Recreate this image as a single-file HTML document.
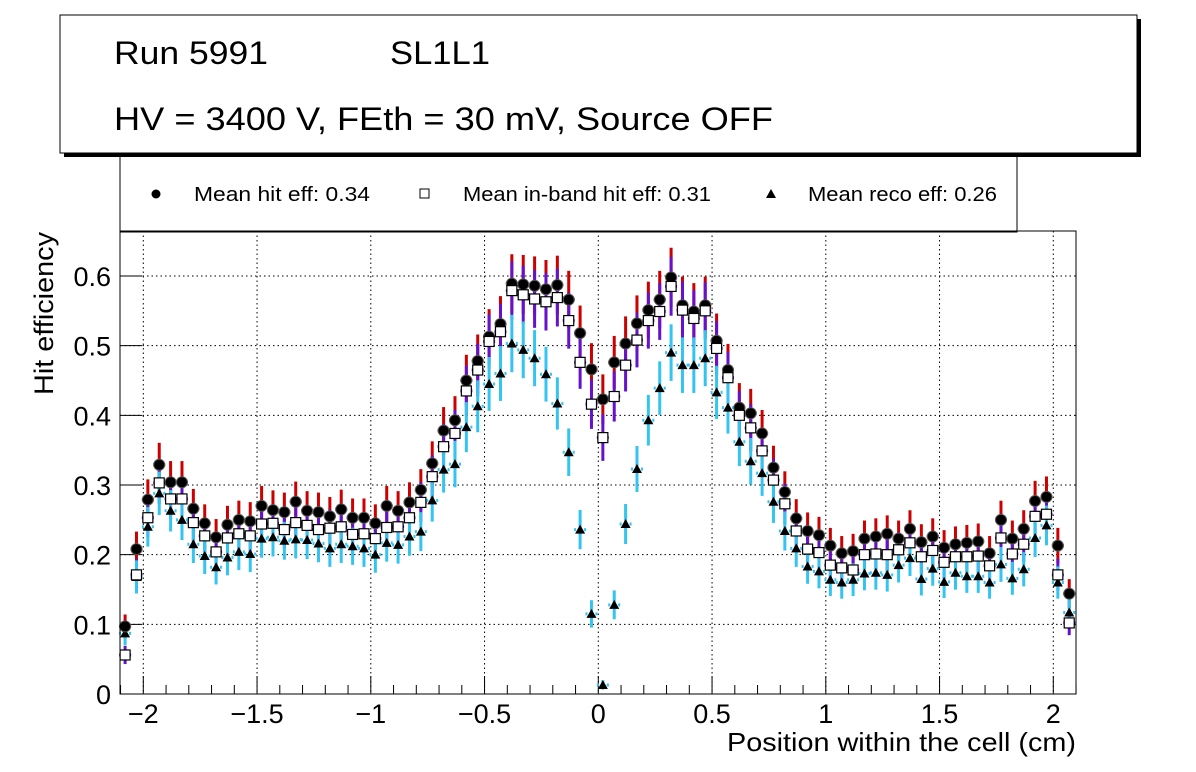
<!DOCTYPE html>
<html><head><meta charset="utf-8"><style>
html,body{margin:0;padding:0;background:#fff;}
svg{display:block;font-family:"Liberation Sans",sans-serif;}
</style></head><body>
<svg id="chart" width="1196" height="772" viewBox="0 0 1196 772" xmlns="http://www.w3.org/2000/svg">
<rect x="0" y="0" width="1196" height="772" fill="#fff"/>
<g id="legend">
<rect x="120" y="140" width="897" height="92" fill="#fff" stroke="#000" stroke-width="1"/>
<circle cx="156" cy="194" r="4.5" fill="#000"/>
<text x="194" y="201" font-size="20" textLength="176" lengthAdjust="spacingAndGlyphs">Mean hit  eff: 0.34</text>
<rect x="420" y="189" width="9" height="9" fill="#fff" stroke="#000"/>
<text x="463" y="201" font-size="20" textLength="248" lengthAdjust="spacingAndGlyphs">Mean in-band hit eff: 0.31</text>
<polygon points="771,189 766,198 776,198" fill="#000"/>
<text x="808" y="201" font-size="20" textLength="189" lengthAdjust="spacingAndGlyphs">Mean reco eff: 0.26</text>
</g>
<g>
<rect x="64" y="19" width="1077" height="138" fill="#000"/>
<rect x="60" y="15" width="1077" height="138" fill="#fff" stroke="#000" stroke-width="1"/>
<text x="114" y="64" font-size="32" textLength="154" lengthAdjust="spacingAndGlyphs">Run 5991</text>
<text x="390" y="64" font-size="32" textLength="100" lengthAdjust="spacingAndGlyphs">SL1L1</text>
<text x="114" y="130" font-size="32" textLength="659" lengthAdjust="spacingAndGlyphs">HV = 3400 V, FEth = 30 mV, Source OFF</text>
</g>
<g id="grid"></g>
<g id="axes"></g>
<g id="series"></g>
<rect x="120" y="231" width="956" height="463" fill="none" stroke="#000" stroke-width="1"/>
<text x="727" y="751" font-size="26" textLength="349" lengthAdjust="spacingAndGlyphs">Position within the cell (cm)</text>
<text transform="translate(53,395) rotate(-90)" font-size="27" textLength="163" lengthAdjust="spacingAndGlyphs">Hit efficiency</text>
</svg>
<script>
const binStart = -2.08;
const binWidth = 0.05;
const hitEff = [0.097,0.208,0.279,0.329,0.304,0.304,0.266,0.245,0.225,0.243,0.250,0.248,0.270,0.264,0.261,0.276,0.263,0.261,0.255,0.265,0.253,0.253,0.245,0.270,0.263,0.275,0.293,0.331,
0.378,0.393,0.450,0.478,0.513,0.531,0.589,0.588,0.586,0.581,0.587,0.566,0.518,0.466,0.423,0.476,0.503,0.532,0.551,0.566,0.598,0.558,0.549,0.558,0.507,0.465,0.411,0.403,0.374,
0.325,0.290,0.252,0.234,0.228,0.213,0.202,0.205,0.223,0.226,0.230,0.223,0.237,0.218,0.226,0.210,0.215,0.217,0.219,0.202,0.250,0.223,0.237,0.277,0.283,0.213,0.144];
const inBandEff = [0.056,0.171,0.253,0.303,0.280,0.280,0.246,0.227,0.204,0.224,0.230,0.227,0.244,0.245,0.236,0.246,0.242,0.236,0.238,0.240,0.229,0.230,0.223,0.239,0.240,0.253,0.275,0.312,
0.355,0.374,0.435,0.465,0.506,0.520,0.579,0.573,0.567,0.563,0.569,0.536,0.476,0.416,0.368,0.427,0.472,0.508,0.536,0.549,0.585,0.551,0.539,0.550,0.496,0.454,0.400,0.382,0.349,
0.307,0.273,0.234,0.208,0.203,0.185,0.181,0.178,0.200,0.201,0.200,0.207,0.217,0.197,0.206,0.189,0.197,0.197,0.198,0.184,0.224,0.201,0.215,0.255,0.258,0.171,0.102];
const recoEff = [0.087,0.168,0.240,0.288,0.263,0.250,0.215,0.198,0.182,0.196,0.204,0.201,0.223,0.225,0.220,0.222,0.221,0.216,0.209,0.215,0.212,0.209,0.200,0.217,0.214,0.226,0.233,0.278,
0.322,0.330,0.383,0.413,0.445,0.460,0.503,0.494,0.482,0.459,0.417,0.347,0.236,0.115,0.013,0.128,0.244,0.323,0.393,0.439,0.490,0.472,0.472,0.482,0.433,0.411,0.362,0.334,0.317,
0.276,0.234,0.209,0.183,0.176,0.164,0.160,0.164,0.173,0.174,0.171,0.185,0.195,0.165,0.180,0.161,0.174,0.169,0.169,0.160,0.186,0.166,0.179,0.224,0.242,0.160,0.117];
const xTicks = [-2,-1.5,-1,-0.5,0,0.5,1,1.5,2];
const xTickLabels = ["\u22122","\u22121.5","\u22121","\u22120.5","0","0.5","1","1.5","2"];
const yTicks = [0,0.1,0.2,0.3,0.4,0.5,0.6];
const yTickLabels = ["0","0.1","0.2","0.3","0.4","0.5","0.6"];

const NS = "http://www.w3.org/2000/svg";
const L=120,R=1076,T=231,B=694;
function X(v){return 598.3+227.5*v;}
function Y(v){return 694-696.7*v;}
function mk(tag,attrs,parent){const e=document.createElementNS(NS,tag);for(const k in attrs)e.setAttribute(k,attrs[k]);parent.appendChild(e);return e;}
const grid=document.getElementById('grid'),axes=document.getElementById('axes'),series=document.getElementById('series');
xTicks.forEach((t,i)=>{
  const g=mk('line',{x1:X(t),x2:X(t),y1:T,y2:B,stroke:'#000','stroke-width':1,'stroke-dasharray':'1.5,3'},grid);
  
  
  const tk=mk('line',{x1:X(t),x2:X(t),y1:B,y2:B-18,stroke:'#000','stroke-width':1},axes);
  
  
  const lb=mk('text',{x:X(t),y:723,'font-size':27,'text-anchor':'middle'},axes);
  lb.textContent=xTickLabels[i];
  
  
});
for(let k=-21;k<=21;k++){const v=k/10;if(Math.abs(k)%5===0)continue;
  const m=mk('line',{x1:X(v),x2:X(v),y1:B,y2:B-9,stroke:'#000','stroke-width':1},axes);
  
  
}
yTicks.forEach((t,i)=>{
  if(t>0){const g=mk('line',{x1:L,x2:R,y1:Y(t),y2:Y(t),stroke:'#000','stroke-width':1,'stroke-dasharray':'1.5,3'},grid);
  
  }
  const tk=mk('line',{x1:L,x2:L+22,y1:Y(t),y2:Y(t),stroke:'#000','stroke-width':1},axes);
  
  
  const lb=mk('text',{x:111,y:Y(t)+10,'font-size':27,'text-anchor':'end'},axes);
  lb.textContent=yTickLabels[i];
  
  
});
function err(v,s){return s*Math.sqrt(Math.max(v,0.01));}
function bars(arr,color,scale,name){
  arr.forEach((v,i)=>{const x=X(binStart+binWidth*i);const e=err(v,scale);
    const l=mk('line',{x1:x,x2:x,y1:Y(v-e),y2:Y(Math.min(v+e,0.66)),stroke:color,'stroke-width':3},series);
    
    
    const h=mk('line',{x1:x-6,x2:x+6,y1:Y(v),y2:Y(v),stroke:color,'stroke-width':3,'stroke-dasharray':'2,8'},series);
    
    
  });
}
bars(hitEff,'#cc0000',0.055,'hit');
bars(inBandEff,'#6611cc',0.055,'inband');
bars(recoEff,'#33c4f0',0.058,'reco');
recoEff.forEach((v,i)=>{const x=X(binStart+binWidth*i),y=Y(v);
  const p=mk('polygon',{points:`${x},${y-5} ${x-5},${y+4} ${x+5},${y+4}`,fill:'#000'},series);
  
  
});
hitEff.forEach((v,i)=>{const x=X(binStart+binWidth*i);
  const c=mk('circle',{cx:x,cy:Y(v),r:5.5,fill:'#000',stroke:'#555','stroke-width':1},series);
  
  
});
inBandEff.forEach((v,i)=>{const x=X(binStart+binWidth*i);
  const r=mk('rect',{x:x-5,y:Y(v)-5,width:10,height:10,fill:'#fff',stroke:'#000','stroke-width':1.2},series);
  
  
});
</script>
</body></html>
